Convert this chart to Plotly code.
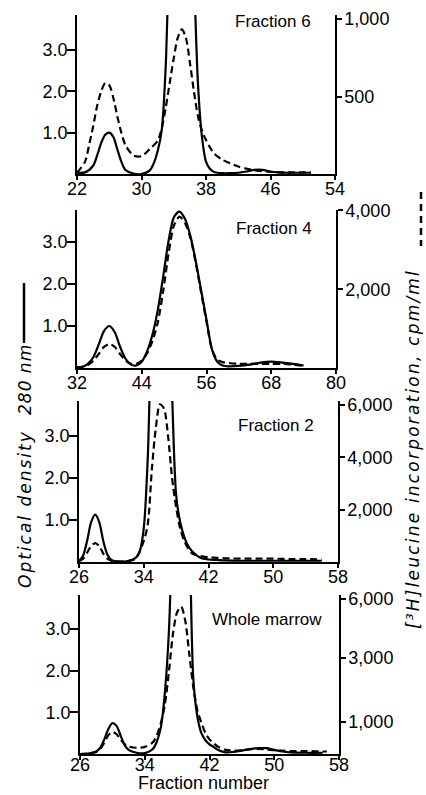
import plotly.graph_objects as go

W, H = 426, 795

# ---------------- data ----------------
# Fraction 6
f6_x_od = [22, 23, 24, 24.5, 25, 25.5, 26, 26.5, 27, 27.5, 28, 29, 30, 31, 31.5, 32, 32.5, 33, 33.5, 34, 35,
           36, 36.5, 37, 37.5, 38, 38.5, 39, 40, 41, 42, 43, 44, 45, 46, 47, 48, 49, 50, 51]
f6_od = [0.03, 0.04, 0.2, 0.45, 0.75, 0.95, 1.0, 0.9, 0.6, 0.3, 0.1, 0.01, 0.0, 0.08, 0.25, 0.55, 1.05, 2.6, 6.0, 9.0, 11.0,
         9.0, 5.0, 2.2, 0.9, 0.3, 0.12, 0.05, 0.02, 0.02, 0.03, 0.06, 0.1, 0.1, 0.06, 0.04, 0.03, 0.03, 0.03, 0.03]
f6_x_cpm = [22, 23, 23.5, 24, 24.5, 25, 25.5, 26, 26.5, 27, 27.5, 28, 29, 30, 31, 32, 32.5, 33, 33.5, 34, 34.5, 35,
            35.5, 36, 36.5, 37, 37.5, 38, 39, 40, 41, 42, 43, 44, 45, 46, 47, 48, 49, 50, 51]
f6_cpm = [8, 80, 187, 307, 440, 533, 587, 573, 493, 373, 267, 187, 120, 115, 160, 213, 293, 427, 587, 747, 880, 933,
          880, 720, 533, 373, 280, 219, 133, 93, 69, 48, 35, 24, 19, 13, 11, 11, 11, 11, 11]

# Fraction 4
f4_x = [32, 33, 34, 35, 36, 37, 38, 39, 40, 41, 42, 43, 44, 45, 46, 47, 48, 49, 50, 51, 52, 53, 54, 55, 56, 57, 58,
        59, 60, 62, 64, 66, 68, 70, 72, 74]
f4_od = [0.02, 0.03, 0.1, 0.25, 0.55, 0.88, 1.0, 0.85, 0.5, 0.22, 0.08, 0.06, 0.15, 0.4, 0.8, 1.4, 2.2, 3.05, 3.6, 3.72,
         3.55, 3.15, 2.55, 1.85, 1.15, 0.45, 0.15, 0.06, 0.04, 0.05, 0.08, 0.13, 0.15, 0.13, 0.1, 0.06]
f4_cpm = [20, 30, 75, 180, 350, 535, 610, 535, 350, 190, 105, 105, 190, 375, 695, 1175, 1975, 2935, 3630, 3840,
          3680, 3310, 2670, 1920, 1175, 480, 215, 150, 130, 105, 105, 105, 105, 105, 85, 55]

# Fraction 2
f2_x_od = [26, 26.5, 27, 27.5, 28, 28.5, 29, 29.5, 30, 31, 32, 33, 33.5, 34, 34.5, 35, 36, 37, 37.5, 38, 38.5, 39,
           39.5, 40, 41, 42, 43, 44, 46, 48, 50, 52, 54, 56]
f2_od = [0.02, 0.15, 0.5, 0.95, 1.13, 0.95, 0.5, 0.18, 0.05, 0.01, 0.02, 0.1, 0.25, 0.8, 2.5, 6.0, 10.0, 7.0, 4.0,
         1.6, 0.95, 0.6, 0.38, 0.25, 0.1, 0.06, 0.05, 0.04, 0.03, 0.03, 0.03, 0.03, 0.03, 0.03]
f2_x_cpm = [26, 26.5, 27, 27.5, 28, 28.5, 29, 29.5, 30, 31, 32, 33, 34, 34.5, 35, 35.5, 36, 36.5, 37, 37.5, 38, 38.5,
            39, 39.5, 40, 41, 42, 43, 44, 46, 48, 50, 52, 54, 56]
f2_cpm = [32, 128, 353, 610, 722, 610, 321, 128, 48, 16, 32, 128, 803, 1445, 3531, 5136, 6019, 5858, 4815, 3210,
          2087, 1284, 803, 514, 321, 225, 177, 161, 144, 128, 128, 128, 112, 112, 96]

# Whole marrow
wm_x_od = [26, 27, 28, 28.5, 29, 29.5, 30, 30.5, 31, 31.5, 32, 33, 34, 35, 35.5, 36, 36.5, 37, 37.5, 38.5, 39.5, 40,
           40.5, 41, 41.5, 42, 42.5, 43, 44, 45, 46, 47, 48, 49, 50, 51, 52, 54, 56]
wm_od = [0.0, 0.01, 0.06, 0.15, 0.35, 0.6, 0.74, 0.68, 0.45, 0.22, 0.1, 0.03, 0.02, 0.12, 0.3, 0.65, 1.5, 3.0, 6.0,
         10.0, 5.5, 1.8, 0.9, 0.5, 0.33, 0.23, 0.17, 0.1, 0.04, 0.05, 0.08, 0.12, 0.14, 0.14, 0.1, 0.06, 0.04, 0.03, 0.03]
wm_x_cpm = [26, 27, 28, 28.5, 29, 29.5, 30, 30.5, 31, 31.5, 32, 33, 34, 35, 35.5, 36, 36.5, 37, 37.5, 38, 38.5, 39,
            39.5, 40, 40.5, 41, 41.5, 42, 42.5, 43, 44, 45, 46, 47, 48, 49, 50, 51, 52, 54, 56, 56.5]
wm_cpm = [0, 13, 65, 156, 352, 586, 691, 625, 456, 313, 235, 195, 222, 365, 586, 977, 1564, 2606, 3779, 4430, 4600,
          4170, 3127, 2085, 1368, 977, 652, 456, 339, 235, 130, 104, 117, 143, 156, 143, 117, 104, 91, 91, 78, 78]

# axis ticks / labels
od_tickvals = [1, 2, 3]
od_ticktext = ["1.0", "2.0", "3.0"]
f6_xticks = [22, 30, 38, 46, 54]
f4_xticks = [32, 44, 56, 68, 80]
f2_xticks = [26, 34, 42, 50, 58]
wm_xticks = [26, 34, 42, 50, 58]
f6_rticks, f6_rtext = [500, 1000], ["500", "1,000"]
f4_rticks, f4_rtext = [2000, 4000], ["2,000", "4,000"]
f2_rticks, f2_rtext = [2000, 4000, 6000], ["2,000", "4,000", "6,000"]
wm_rticks, wm_rtext = [1000, 3000, 4840], ["1,000", "3,000", "6,000"]
titles = ["Fraction 6", "Fraction 4", "Fraction 2", "Whole marrow"]

# ---------------- layout geometry (pixels) ----------------
panels = [
    dict(x=(f6_x_od, f6_od, f6_x_cpm, f6_cpm), xr=[22, 54], xt=f6_xticks, ltop=3.85, rtop=1026,
         rt=f6_rticks, rtt=f6_rtext, px=(77, 335), py=(15, 174), tpos=(273, 22), xso=-6),
    dict(x=(f4_x, f4_od, f4_x, f4_cpm), xr=[32, 80], xt=f4_xticks, ltop=3.76, rtop=4010,
         rt=f4_rticks, rtt=f4_rtext, px=(77, 336), py=(210, 368), tpos=(274, 229), xso=-6),
    dict(x=(f2_x_od, f2_od, f2_x_cpm, f2_cpm), xr=[26, 58], xt=f2_xticks, ltop=3.83, rtop=6145,
         rt=f2_rticks, rtt=f2_rtext, px=(79, 338), py=(401, 562), tpos=(276, 425), xso=-6),
    dict(x=(wm_x_od, wm_od, wm_x_cpm, wm_cpm), xr=[26, 58], xt=wm_xticks, ltop=3.81, rtop=4969,
         rt=wm_rticks, rtt=wm_rtext, px=(80, 339), py=(595, 754), tpos=(267, 619), xso=-10),
]

FONT = "Liberation Sans"
fig = go.Figure()
layout = {}
annotations = []
axis_common = dict(showline=True, linecolor="black", linewidth=1.5, ticks="outside", tickwidth=1.5,
                   tickcolor="black", showgrid=False, zeroline=False, automargin=False, fixedrange=True,
                   tickfont=dict(family=FONT, size=18, color="black"))

for i, p in enumerate(panels):
    xi = i + 1
    yl = 2 * i + 1
    yr = 2 * i + 2
    xref = "x" if xi == 1 else f"x{xi}"
    ylref = "y" if yl == 1 else f"y{yl}"
    yrref = f"y{yr}"
    xname = "xaxis" if xi == 1 else f"xaxis{xi}"
    ylname = "yaxis" if yl == 1 else f"yaxis{yl}"
    yrname = f"yaxis{yr}"
    dom_x = [p["px"][0] / W, p["px"][1] / W]
    dom_y = [1 - p["py"][1] / H, 1 - p["py"][0] / H]
    layout[xname] = dict(axis_common, domain=dom_x, range=p["xr"], anchor=ylref, tickvals=p["xt"],
                         ticklen=4, ticklabelstandoff=p["xso"])
    layout[ylname] = dict(axis_common, domain=dom_y, range=[0, p["ltop"]], anchor=xref, side="left",
                          tickvals=od_tickvals, ticktext=od_ticktext, ticklen=8, ticklabelstandoff=-4)
    layout[yrname] = dict(axis_common, domain=dom_y, range=[0, p["rtop"]], anchor=xref, side="right",
                          overlaying=ylref, tickvals=p["rt"], ticktext=p["rtt"], ticklen=5,
                          ticklabelstandoff=-1)
    xo, yo, xc, yc = p["x"]
    fig.add_trace(go.Scatter(x=xo, y=yo, mode="lines", line=dict(color="black", width=2.2, shape="spline",
                                                                 smoothing=0.8),
                             xaxis=xref, yaxis=ylref, showlegend=False, hoverinfo="skip"))
    fig.add_trace(go.Scatter(x=xc, y=yc, mode="lines", line=dict(color="black", width=2.2, dash="7px,4px",
                                                                 shape="spline", smoothing=0.8),
                             xaxis=xref, yaxis=yrref, showlegend=False, hoverinfo="skip"))
    annotations.append(dict(text=titles[i], x=p["tpos"][0] / W, y=1 - p["tpos"][1] / H, xref="paper",
                            yref="paper", showarrow=False, xanchor="center", yanchor="middle",
                            font=dict(family=FONT, size=17, color="black")))

annotations.append(dict(text="Fraction number", x=203 / W, y=0, xref="paper", yref="paper",
                        showarrow=False, xanchor="center", yanchor="bottom",
                        font=dict(family=FONT, size=18, color="black")))
annotations.append(dict(text='<i><span style="letter-spacing:2px">Optical density</span></i>', x=25 / W,
                        y=1 - 509 / H, xref="paper", yref="paper", showarrow=False, textangle=-90,
                        xanchor="center", yanchor="middle", font=dict(family="DejaVu Sans", size=17, color="black")))
annotations.append(dict(text='<i><span style="letter-spacing:1px">280 nm</span></i>', x=25 / W,
                        y=1 - 380 / H, xref="paper", yref="paper", showarrow=False, textangle=-90,
                        xanchor="center", yanchor="middle", font=dict(family="DejaVu Sans", size=17, color="black")))
annotations.append(dict(text='<i><span style="letter-spacing:2.2px">[³H]leucine incorporation, cpm/ml</span></i>',
                        x=413 / W, y=1 - 449 / H, xref="paper", yref="paper", showarrow=False, textangle=-90,
                        xanchor="center", yanchor="middle", font=dict(family="DejaVu Sans", size=17, color="black")))

shapes = [
    dict(type="line", xref="paper", yref="paper", x0=24 / W, x1=24 / W, y0=1 - 283 / H, y1=1 - 343 / H,
         line=dict(color="black", width=2.5)),
    dict(type="line", xref="paper", yref="paper", x0=421 / W, x1=421 / W, y0=1 - 192 / H, y1=1 - 246 / H,
         line=dict(color="black", width=2.5, dash="7px,5px")),
]

fig.update_layout(width=W, height=H, margin=dict(l=0, r=0, t=0, b=0), paper_bgcolor="white",
                  plot_bgcolor="white", annotations=annotations, shapes=shapes, **layout)
fig.write_html("out.html", config={"displayModeBar": False},
               post_script="document.body.style.margin='0px';document.body.style.overflow='hidden';")
